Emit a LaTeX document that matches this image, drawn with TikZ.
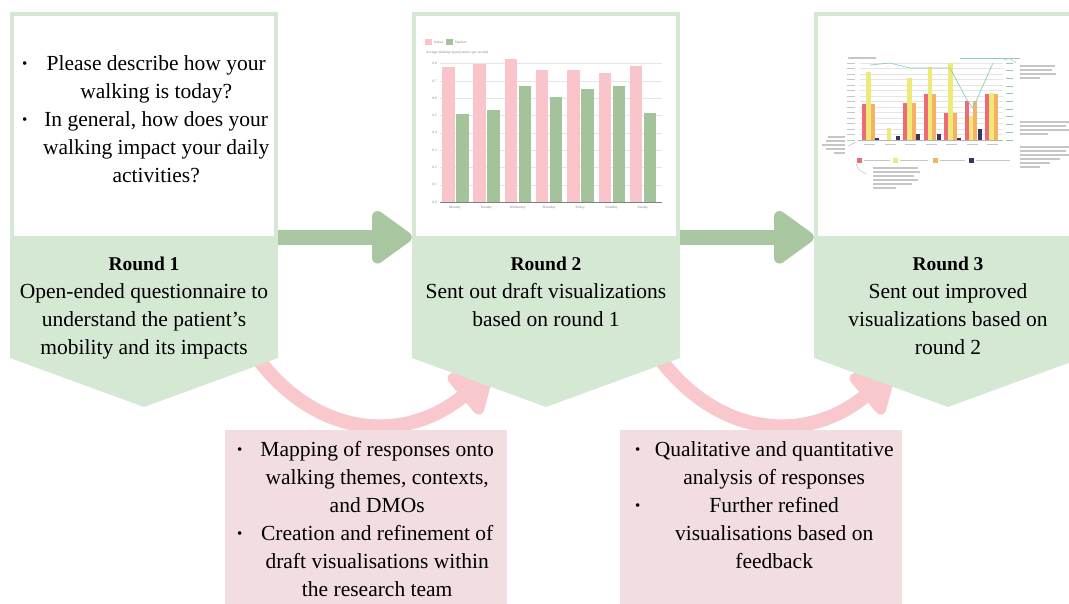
\documentclass[tikz,border=0pt]{standalone}
\usepackage{fontspec}
\setmainfont{Liberation Serif}
\usepackage{array}
\usetikzlibrary{arrows.meta, positioning}

\definecolor{roundgreen}{HTML}{D5E8D4}
\definecolor{flowgreen}{HTML}{A8C69F}
\definecolor{flowpink}{HTML}{F8C8CD}
\definecolor{notepink}{HTML}{F2DDE0}
\definecolor{barpink}{HTML}{F9C4CA}
\definecolor{bargreen}{HTML}{A5C39A}
\definecolor{barred}{HTML}{EE6A78}
\definecolor{baryellow}{HTML}{EEEA78}
\definecolor{barorange}{HTML}{F6B165}
\definecolor{barpurple}{HTML}{3B3362}
\definecolor{lineteal}{HTML}{8CCBC4}

% bullet fixed at the left, text centred beside it
\newcommand{\bulletlist}[3]{%
  \begin{tabular}{@{}p{#1}@{}>{\centering\arraybackslash}p{#2}@{}}#3\end{tabular}}
\newcommand{\listdot}{\raisebox{2.5pt}{\fontsize{15}{28}\selectfont\textbullet}}

\begin{document}
\begin{tikzpicture}[x=1pt, y=-1pt,
    every node/.style={font=\fontsize{21.5}{28}\selectfont, inner sep=0pt},
    panel/.style={draw=roundgreen, line width=4.5pt, fill=white, minimum width=264pt, minimum height=224pt},
    note/.style={fill=notepink, minimum width=282pt, minimum height=180pt},
    roundtext/.style={align=center, anchor=north},
    flow/.style={flowgreen, line width=15pt, -{Triangle[width=60pt, length=44pt, round]}},
    back/.style={flowpink, line width=14pt, -{Triangle[width=58pt, length=44pt, round]}},
    tiny/.style={font=\fontsize{3.5}{4}\selectfont, text=gray},
    grid/.style={gray!20, line width=0.4pt},
    scribble/.style={gray!45, line width=1.1pt},
]
\clip (0,0) rectangle (1069,603);

% --- feedback arrows (behind the rounds) ---
\coordinate (s1) at (244,338);
\coordinate (e1) at (492,372);
\coordinate (s2) at (646,338);
\coordinate (e2) at (894,372);
\draw[back] (s1) .. controls +(60,100) and +(-90,75) .. (e1);
\draw[back] (s2) .. controls +(60,100) and +(-90,75) .. (e2);

% --- rounds ---
\fill[roundgreen] (10,236) -- (278,236) -- (278,358) -- (144,407) -- (10,358) -- cycle;
\fill[roundgreen] (412,236) -- (680,236) -- (680,358) -- (546,407) -- (412,358) -- cycle;
\fill[roundgreen] (814,236) -- (1082,236) -- (1082,358) -- (948,407) -- (814,358) -- cycle;

\node[panel] (q1) at (144,126) {};
\node[panel] (q2) at (546,126) {};
\node[panel] (q3) at (948,126) {};

\node[roundtext] (r1) at (144,257) {\textbf{\fontsize{19.5}{28}\selectfont Round 1}\\Open-ended questionnaire to\\understand the patient's\\mobility and its impacts};
\node[roundtext] (r2) at (546,257) {\textbf{\fontsize{19.5}{28}\selectfont Round 2}\\Sent out draft visualizations\\based on round 1};
\node[roundtext] (r3) at (948,257) {\textbf{\fontsize{19.5}{28}\selectfont Round 3}\\Sent out improved\\visualizations based on\\round 2};

\draw[flow] ([yshift=3pt]q1.south east) -- ([yshift=3pt]q2.south west);
\draw[flow] ([yshift=3pt]q2.south east) -- ([yshift=3pt]q3.south west);

% --- round 1 questions ---
\node[anchor=north west] (ask) at (22,51) {\bulletlist{14pt}{240pt}{%
  \listdot & Please describe how your\\ & walking is today?\\
  \listdot & In general, how does your\\ & walking impact your daily\\ & activities?}};

% --- round 2 draft chart ---
\fill[barpink] (425,39) rectangle (432,45);
\node[tiny, anchor=west] (lin) at (434,42) {Indoor};
\fill[bargreen] (446,39) rectangle (453,45);
\node[tiny, anchor=west] (lout) at (455,42) {Outdoor};
\node[tiny, anchor=west] (ytitle) at (426,53) {Average Walking Speed (meters per second)};
\foreach \k in {0,...,8} {
  \draw[grid] (440,{202-17.3*\k}) -- (662,{202-17.3*\k});
  \node[tiny, anchor=east] (yl\k) at (437,{202-17.3*\k}) {0.\k};
}
\foreach \d/\p/\g [count=\i from 0] in {Monday/135/88, Tuesday/138/92, Wednesday/143/116, Thursday/132/105, Friday/132/113, Saturday/129/116, Sunday/136/89} {
  \fill[barpink] ({442+31.3*\i},202) rectangle ++(12.5,-\p);
  \fill[bargreen] ({456+31.3*\i},202) rectangle ++(12.5,-\g);
  \node[tiny] (day\i) at ({455+31.3*\i},208) {\d};
}
\draw[gray, line width=0.8pt] (440,202) -- (662,202);

% --- round 3 improved chart ---
\draw[scribble] (848,58) -- (876,58);
\draw[lineteal, line width=1pt] (960,58) -- (1020,58);
\foreach \k in {0,...,14} {
  \draw[grid] (860,{140-5.5*\k}) -- (1003,{140-5.5*\k});
  \draw[gray!45, line width=0.9pt] (847,{140-5.5*\k}) -- (855,{140-5.5*\k});
}
\foreach \k in {0,...,10} \draw[lineteal, line width=0.9pt] (1006,{140-7.7*\k}) -- (1013,{140-7.7*\k});
\foreach \r/\y/\o/\u [count=\i from 0] in {36/68/36/2, 0/12/0/4.5, 37/62/37/6, 46/73/46/6, 27/77/27/2.5, 39/24/39/11, 46/47/46/0} {
  \fill[barred] ({862+20.5*\i},140) rectangle ++(4.2,-\r);
  \fill[baryellow] ({866.3+20.5*\i},140) rectangle ++(4.2,-\y);
  \fill[barorange] ({870.6+20.5*\i},140) rectangle ++(4.2,-\o);
  \fill[barpurple] ({875+20.5*\i},140) rectangle ++(4.2,-\u);
  \draw[gray!45, line width=0.9pt] ({864+20.5*\i},144) -- ++(11,0);
}
\draw[gray!60, line width=0.6pt] (858,140) -- (1003,140);
\draw[lineteal, line width=0.7pt] (870,65) -- (890,63) -- (910,68) -- (950,68) -- (967,100) -- (973,108) -- (993,63);
% legend
\foreach \c/\x/\w in {barred/857/26, baryellow/893/28, barorange/933/25, barpurple/969/34} {
  \fill[\c] (\x,158) rectangle ++(5,5);
  \draw[gray!45, line width=0.9pt] ({\x+7},160.5) -- ++(\w,0);
}
% notes round the chart
\foreach \y/\a in {137/828, 141/826, 145/822, 149/826, 153/834} \draw[scribble] (\a,\y) -- (845,\y);
\foreach \y/\b in {168/918, 172/920, 176/914, 180/918, 184/912, 188/896} \draw[scribble] (873,\y) -- (\b,\y);
\foreach \y/\b in {66/1055, 70/1052, 74/1056, 78/1040} \draw[scribble] (1020,\y) -- (\b,\y);
\foreach \y/\b in {122/1069, 126/1066, 130/1069, 134/1048, 147/1069, 151/1066, 155/1069, 159/1060, 163/1050, 167/1040} \draw[scribble] (1020,\y) -- (\b,\y);
\draw[gray!50, line width=0.5pt] (848,146) .. controls (852,144) .. (856,142);
\draw[gray!50, line width=0.5pt] (867,174) .. controls (858,170) .. (856,163);
\draw[gray!50, line width=0.5pt] (1016,63) .. controls (1010,58) .. (1004,60);

% --- between-round work ---
\node[note] (m1) at (366,520) {};
\node[note] (m2) at (761,520) {};

\node[anchor=north west] (work1) at (237,437) {\bulletlist{15pt}{250pt}{%
  \listdot & Mapping of responses onto\\ & walking themes, contexts,\\ & and DMOs\\
  \listdot & Creation and refinement of\\ & draft visualisations within\\ & the research team}};
\node[anchor=north west] (work2) at (635,437) {\bulletlist{14pt}{250pt}{%
  \listdot & Qualitative and quantitative\\ & analysis of responses\\
  \listdot & Further refined\\ & visualisations based on\\ & feedback}};

\end{tikzpicture}
\end{document}
